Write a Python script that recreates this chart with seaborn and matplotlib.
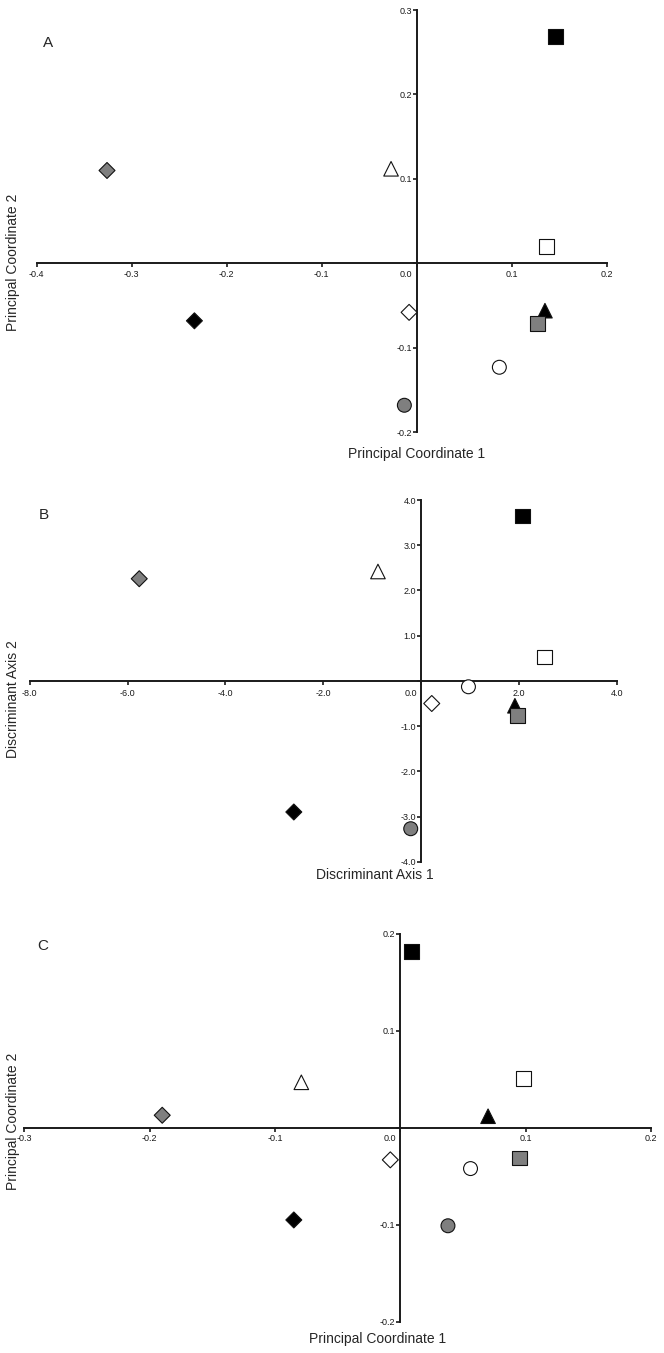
import numpy as np
import pandas as pd
import matplotlib
matplotlib.use('Agg')
import matplotlib.pyplot as plt
import matplotlib.transforms as mtransforms
import seaborn as sns

# group order = drawing order (grey square sits on top of the black triangle)
groups = ['black_square', 'open_square', 'black_triangle', 'grey_square', 'open_triangle',
          'black_diamond', 'open_diamond', 'grey_diamond', 'open_circle', 'grey_circle']
markers = {'black_square': 's', 'open_square': 's', 'grey_square': 's',
           'black_triangle': '^', 'open_triangle': '^',
           'black_diamond': 'D', 'open_diamond': 'D', 'grey_diamond': 'D',
           'open_circle': 'o', 'grey_circle': 'o'}
colors = {'black_square': 'black', 'open_square': 'white', 'grey_square': '#7f7f7f',
          'black_triangle': 'black', 'open_triangle': 'white',
          'black_diamond': 'black', 'open_diamond': 'white', 'grey_diamond': '#7f7f7f',
          'open_circle': 'white', 'grey_circle': '#7f7f7f'}
sizes = {'black_square': 112, 'open_square': 112, 'grey_square': 112,
         'black_triangle': 110, 'open_triangle': 110,
         'black_diamond': 66, 'open_diamond': 66, 'grey_diamond': 66,
         'open_circle': 100, 'grey_circle': 100}

# panel A: PCoA
a_x = [0.146, 0.137, 0.135, 0.127, -0.027, -0.234, -0.008, -0.326, 0.087, -0.013]
a_y = [0.269, 0.020, -0.056, -0.071, 0.112, -0.068, -0.058, 0.110, -0.123, -0.168]
a_xticks = [-0.4, -0.3, -0.2, -0.1, 0.0, 0.1, 0.2]
a_yticks = [-0.2, -0.1, 0.0, 0.1, 0.2, 0.3]

# panel B: discriminant analysis
b_x = [2.07, 2.52, 1.92, 1.98, -0.88, -2.60, 0.22, -5.76, 0.97, -0.21]
b_y = [3.65, 0.53, -0.55, -0.77, 2.42, -2.90, -0.50, 2.26, -0.13, -3.27]
b_xticks = [-8.0, -6.0, -4.0, -2.0, 0.0, 2.0, 4.0]
b_yticks = [-4.0, -3.0, -2.0, -1.0, 0.0, 1.0, 2.0, 3.0, 4.0]

# panel C: PCoA
c_x = [0.009, 0.098, 0.070, 0.095, -0.079, -0.085, -0.008, -0.190, 0.056, 0.038]
c_y = [0.182, 0.051, 0.012, -0.031, 0.047, -0.095, -0.033, 0.013, -0.042, -0.101]
c_xticks = [-0.3, -0.2, -0.1, 0.0, 0.1, 0.2]
c_yticks = [-0.2, -0.1, 0.0, 0.1, 0.2]

sns.set_style('white')
narrow = ['Liberation Sans Narrow', 'Liberation Sans', 'DejaVu Sans']
plt.rcParams['font.family'] = ['Liberation Sans', 'DejaVu Sans']

fig = plt.figure(figsize=(6.64, 13.53), dpi=100)


def draw_panel(rect, xs, ys, xticks, yticks, letter, letter_pos, xlabel, xlabel_pos,
               ylabel, ylabel_pos, xpad=1.5):
    ax = fig.add_axes(rect)
    df = pd.DataFrame({'x': xs, 'y': ys, 'group': groups})
    sns.scatterplot(data=df, x='x', y='y', hue='group', style='group', size='group',
                    palette=colors, markers=markers, sizes=sizes,
                    edgecolor='#111111', linewidth=0.8, legend=False, ax=ax, zorder=3)
    ax.set_xlim(xticks[0], xticks[-1])
    ax.set_ylim(yticks[0], yticks[-1])
    for side in ['top', 'right']:
        ax.spines[side].set_visible(False)
    ax.spines['left'].set_position(('data', 0))
    ax.spines['bottom'].set_position(('data', 0))
    for side in ['left', 'bottom']:
        ax.spines[side].set_linewidth(1.4)
        ax.spines[side].set_color('#1a1a1a')
    ax.set_xticks(xticks)
    ax.set_yticks(yticks)
    ax.set_xticklabels([f'{v:.1f}' for v in xticks], family=narrow)
    ax.set_yticklabels(['' if v == 0 else f'{v:.1f}' for v in yticks], family=narrow)
    ax.tick_params(direction='out', length=3, width=1.2, labelsize=6.5,
                   colors='#1a1a1a', left=True, bottom=True)
    ax.tick_params(axis='x', pad=xpad)
    ax.tick_params(axis='y', pad=0.5)
    for lbl, v in zip(ax.get_xticklabels(), xticks):
        if v == 0:
            lbl.set_ha('right')
            lbl.set_transform(lbl.get_transform() +
                              mtransforms.ScaledTranslation(-3 / 72, 0, fig.dpi_scale_trans))
    ax.set_xlabel('')
    ax.set_ylabel('')
    ax.patch.set_alpha(0)
    fig.text(letter_pos[0], letter_pos[1], letter, fontsize=11, family=narrow,
             ha='center', va='center')
    fig.text(xlabel_pos[0], xlabel_pos[1], xlabel, fontsize=10, ha='center', va='center')
    fig.text(ylabel_pos[0], ylabel_pos[1], ylabel, fontsize=10, rotation=90,
             ha='center', va='center')
    return ax


draw_panel([0.0553, 0.6805, 0.8584, 0.3121], a_x, a_y, a_xticks, a_yticks,
           'A', (0.072, 0.968), 'Principal Coordinate 1', (0.628, 0.6645),
           'Principal Coordinate 2', (0.019, 0.806))
draw_panel([0.0447, 0.3631, 0.8840, 0.2673], b_x, b_y, b_xticks, b_yticks,
           'B', (0.066, 0.619), 'Discriminant Axis 1', (0.565, 0.353),
           'Discriminant Axis 2', (0.019, 0.483), xpad=3)
draw_panel([0.0367, 0.0231, 0.9437, 0.2866], c_x, c_y, c_xticks, c_yticks,
           'C', (0.065, 0.301), 'Principal Coordinate 1', (0.569, 0.0103),
           'Principal Coordinate 2', (0.019, 0.171))

fig.savefig('out.png', dpi=100)
